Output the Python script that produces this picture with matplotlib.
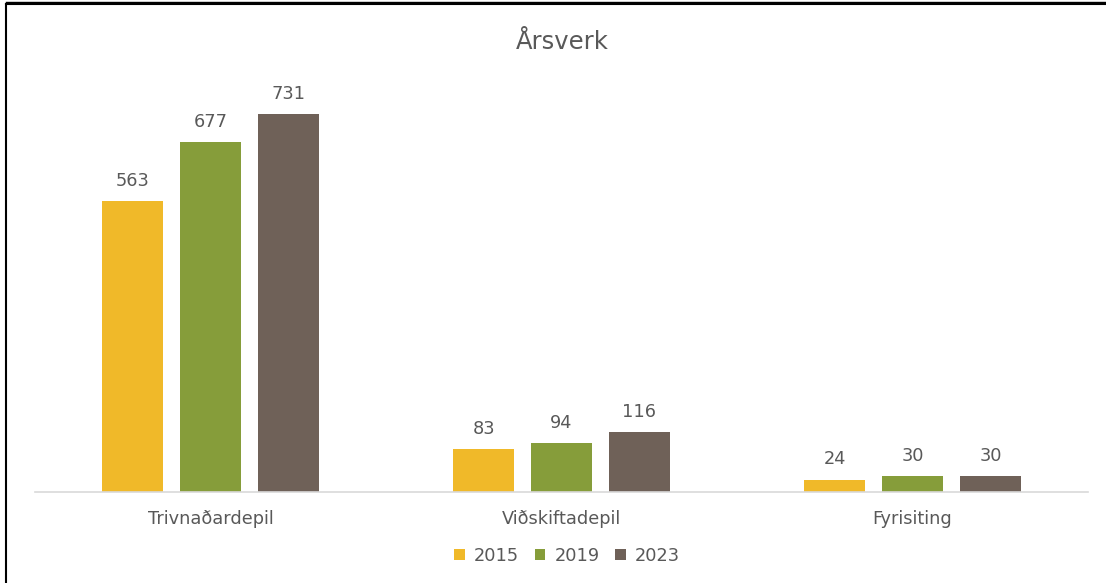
import matplotlib

matplotlib.use("Agg")
import matplotlib.pyplot as plt
from matplotlib.lines import Line2D
import numpy as np

plt.rcParams["font.family"] = ["DejaVu Sans"]

categories = ["Trivnaðardepil", "Viðskiftadepil", "Fyrisiting"]
years = ["2015", "2019", "2023"]
values = {
    "2015": [563, 83, 24],
    "2019": [677, 94, 30],
    "2023": [731, 116, 30],
}
colors = {"2015": "#F0B929", "2019": "#869D3A", "2023": "#6F6158"}
TEXT = "#595959"

fig = plt.figure(figsize=(11.06, 5.83), dpi=100)
ax = fig.add_axes([35 / 1106, 91 / 583, 1053 / 1106, 414 / 583])

x = np.arange(len(categories))
width = 0.174
step = 0.222
for i, yr in enumerate(years):
    bars = ax.bar(x + (i - 1) * step, values[yr], width, color=colors[yr],
                  label=yr, zorder=2)
    for b, v in zip(bars, values[yr]):
        ax.annotate(f"{v}", (b.get_x() + b.get_width() / 2, v),
                    xytext=(0, 8), textcoords="offset points",
                    ha="center", va="bottom", fontsize=12.8, color=TEXT)

ax.set_xlim(-0.5, 2.5)
ax.set_ylim(0, 800)
ax.set_yticks([])
ax.set_xticks(x, categories)
ax.tick_params(axis="x", length=0, pad=13, labelsize=12.8, labelcolor=TEXT)
for side in ("left", "right", "top"):
    ax.spines[side].set_visible(False)
ax.spines["bottom"].set_color("#D9D9D9")
ax.spines["bottom"].set_linewidth(1.2)

fig.text(562 / 1106, 1 - 42 / 583, "Årsverk", ha="center", va="center",
         fontsize=17.5, color=TEXT)

fig.legend(loc="center", bbox_to_anchor=(567 / 1106, 1 - 556 / 583), ncol=3,
           frameon=False, fontsize=12.8, labelcolor=TEXT,
           handlelength=0.6, handleheight=0.6, handletextpad=0.5,
           columnspacing=0.9)

# page border from the screenshot
fig.add_artist(Line2D([6 / 1106, 6 / 1106], [0, 1 - 4 / 583],
                      color="black", lw=1.5, transform=fig.transFigure))
fig.add_artist(Line2D([6 / 1106, 1], [1 - 4 / 583, 1 - 4 / 583],
                      color="black", lw=1.5, transform=fig.transFigure))
fig.add_artist(Line2D([6 / 1106, 1], [1 - 1.5 / 583, 1 - 1.5 / 583],
                      color="black", lw=1.0, transform=fig.transFigure))

fig.savefig("out.png", dpi=100)
